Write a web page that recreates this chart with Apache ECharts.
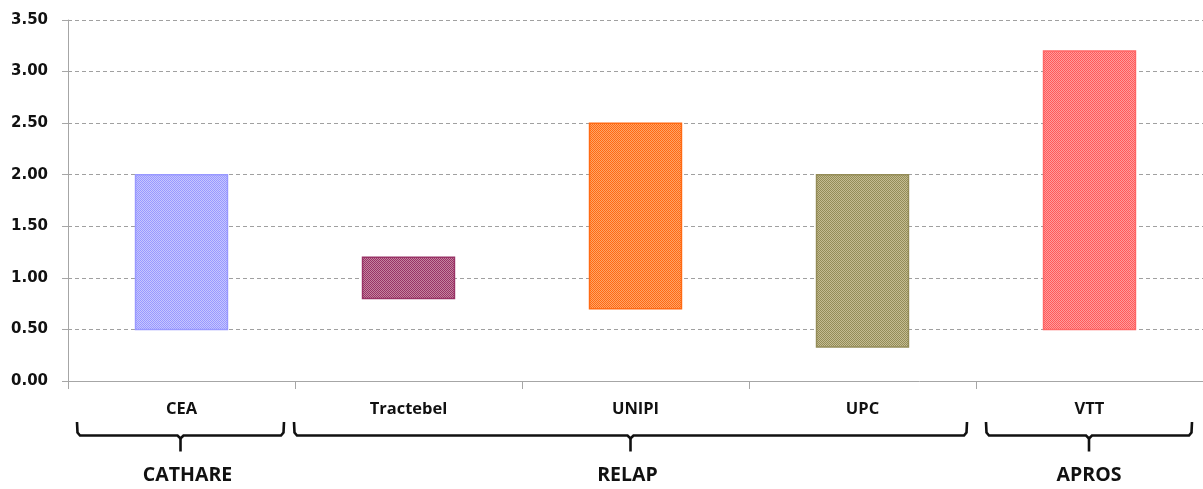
<!DOCTYPE html>
<html><head><meta charset="utf-8">
<script src="https://cdn.jsdelivr.net/npm/echarts@6/dist/echarts.min.js"></script>
<style>html,body{margin:0;padding:0;background:#fff}#c{width:1203px;height:489px}</style>
</head><body><div id="c"></div>
<script>
const categories = ['CEA', 'Tractebel', 'UNIPI', 'UPC', 'VTT'];
const lowValues  = [0.50, 0.80, 0.70, 0.33, 0.50];
const highValues = [2.00, 1.20, 2.50, 2.00, 3.20];
const yTicks = [0, 0.5, 1, 1.5, 2, 2.5, 3, 3.5];
const groupNames = ['CATHARE', 'RELAP', 'APROS'];
const groupStart = [0, 1, 4];
const groupEnd   = [0, 3, 4];
const baseColors  = ['#9999ff', '#993366', '#ff6a14', '#948c58', '#ff5a5a'];
const lightColors = ['#c6c6ff', '#c4849f', '#ffa466', '#c4bd92', '#ff9c9c'];
const borderColors = ['#9999ff', '#993366', '#ff6a14', '#948c58', '#ff6666'];

function makePattern(base, light) {
  const c = document.createElement('canvas');
  c.width = 2; c.height = 2;
  const g = c.getContext('2d');
  g.fillStyle = base; g.fillRect(0, 0, 2, 2);
  g.fillStyle = light; g.fillRect(1, 0, 1, 1); g.fillRect(0, 1, 1, 1);
  return { image: c, repeat: 'repeat' };
}
const patterns = baseColors.map((b, i) => makePattern(b, lightColors[i]));

const FONT = '"Open Sans", sans-serif';
const chart = echarts.init(document.getElementById('c'), null, { renderer: 'canvas' });
chart.setOption({
  animation: false,
  backgroundColor: '#ffffff',
  grid: { left: 68, right: 0, top: 20, bottom: 108 },
  xAxis: {
    type: 'category', data: categories, boundaryGap: true,
    axisLine: { lineStyle: { color: '#a6a6a6', width: 1 } },
    axisTick: { show: true, length: 8, lineStyle: { color: '#a6a6a6' } },
    axisLabel: { margin: 20, fontFamily: FONT, fontWeight: 'bold', fontSize: 16.5, color: '#111' },
    splitLine: { show: false }
  },
  yAxis: {
    type: 'value', min: yTicks[0], max: yTicks[yTicks.length - 1], interval: 0.5,
    axisLine: { show: true, lineStyle: { color: '#a6a6a6', width: 1 } },
    axisTick: { show: true, length: 6, lineStyle: { color: '#a6a6a6' } },
    axisLabel: { margin: 20, fontFamily: '"DejaVu Sans", sans-serif', fontWeight: 'bold', fontSize: 15, color: '#111',
      formatter: v => v.toFixed(2) },
    splitLine: { show: true, lineStyle: { color: '#a0a0a0', type: [4, 3], width: 1 } }
  },
  series: [{
    type: 'custom',
    data: categories.map((c, i) => [i, lowValues[i], highValues[i]]),
    encode: { x: 0, y: [1, 2] },
    renderItem: function (params, api) {
      const i = api.value(0);
      const p1 = api.coord([i, api.value(1)]);
      const p2 = api.coord([i, api.value(2)]);
      const w = api.size([1, 0])[0] * 0.405;
      return {
        type: 'rect',
        shape: { x: p1[0] - w / 2, y: p2[1], width: w, height: p1[1] - p2[1] },
        style: { fill: patterns[i], stroke: borderColors[i], lineWidth: 1.5 }
      };
    }
  }]
});

// Group braces below the category labels
const c0 = chart.convertToPixel({ xAxisIndex: 0 }, 0);
const c1 = chart.convertToPixel({ xAxisIndex: 0 }, 1);
const band = c1 - c0;
const padLeft = [9, -1, 10];
const padRight = [11, 9, 11];
const labelShift = [7, -3, 0];
const yTop = 422, yLine = 435.5, yTip = 451.5, yLabel = 475;
const graphics = [];
const ink = { fill: null, stroke: '#111', lineWidth: 2.6 };
groupNames.forEach((name, g) => {
  const left = chart.convertToPixel({ xAxisIndex: 0 }, groupStart[g]) - band / 2 + padLeft[g];
  const right = chart.convertToPixel({ xAxisIndex: 0 }, groupEnd[g]) + band / 2 - padRight[g];
  const mid = (left + right) / 2;
  graphics.push({ type: 'polyline', shape: { points: [
    [left, yTop], [left + 0.5, yLine - 3], [left + 3, yLine], [mid - 3, yLine], [mid, yLine + 3],
    [mid + 3, yLine], [right - 3, yLine], [right - 0.5, yLine - 3], [right, yTop]] }, style: ink });
  graphics.push({ type: 'line', shape: { x1: mid, y1: yLine + 2, x2: mid, y2: yTip }, style: ink });
  graphics.push({ type: 'text', x: mid + labelShift[g], y: yLabel,
    style: { text: name, fontFamily: FONT, fontWeight: 'bold', fontSize: 19.5, fill: '#111', align: 'center', verticalAlign: 'middle' } });
});
chart.setOption({ graphic: graphics });
</script>
</body></html>
